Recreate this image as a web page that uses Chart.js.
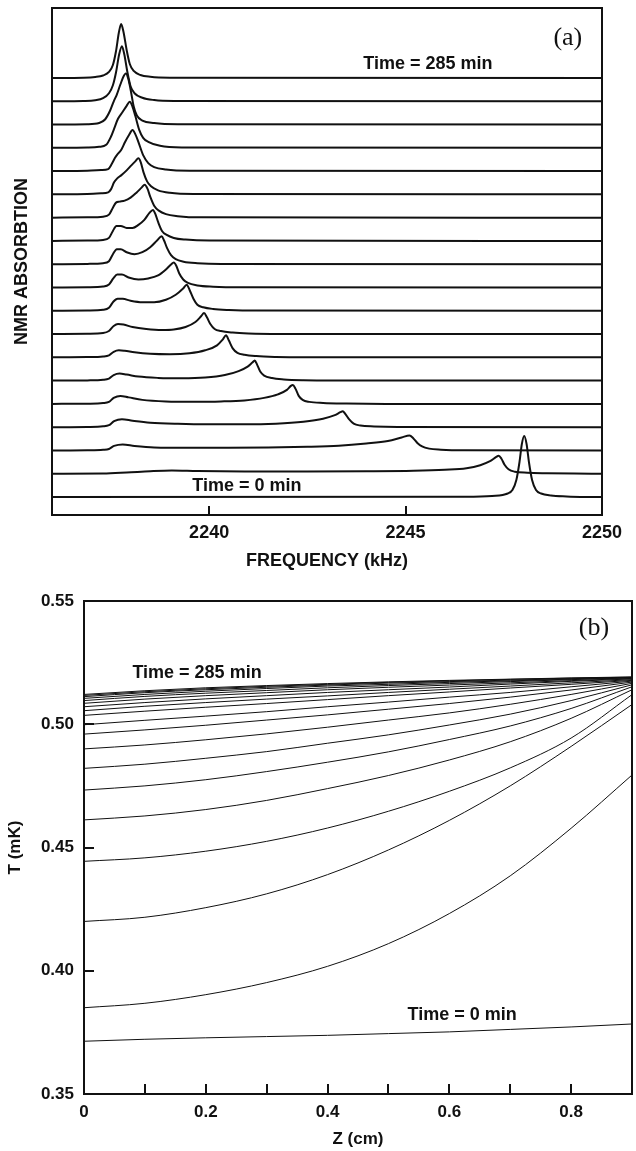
<!DOCTYPE html>
<html>
<head>
<meta charset="utf-8">
<script src="https://cdn.jsdelivr.net/npm/chart.js@4.4.1/dist/chart.umd.min.js"></script>
<style>
html,body{margin:0;padding:0;background:#fff;}
#wrap{position:relative;width:636px;height:1151px;}
canvas{position:absolute;left:0;}
#nmr{top:0;}
#temp{top:575px;}
</style>
</head>
<body>
<div id="wrap">
<canvas id="nmr" width="636" height="575"></canvas>
<canvas id="temp" width="636" height="576"></canvas>
</div>
<script>
//---------------- PANEL (a) : NMR spectra, [kHz, absorption] ----------------
// sp00 = Time 0 min (bottom trace) ... sp18 = Time 285 min (top trace)
const freqTicks = [2240, 2245, 2250];
const freqMarks = [2240, 2245];
const stackStep = 23.28;

const sp00 = [[2236,0],[2246.5,0.2],[2247.2,1],[2247.6,3.5],[2247.72,7],[2247.82,17],[2247.9,35],[2247.96,53],[2248.02,61],[2248.08,53],[2248.14,35],[2248.22,17],[2248.32,7],[2248.45,3.5],[2248.7,1.5],[2249.1,0.6],[2249.6,0.1],[2250,0]];
const sp01 = [[2236,0],[2237.3,0.2],[2237.9,1.2],[2238.5,2.5],[2239.05,3.2],[2239.7,2.7],[2240.9,2.3],[2242.5,2.3],[2244,2.5],[2245.2,3],[2246.0,4],[2246.55,5.5],[2246.9,8.5],[2247.15,12.5],[2247.3,16.5],[2247.37,18],[2247.44,15],[2247.52,9],[2247.62,4.5],[2247.78,2],[2248.1,1],[2248.6,0.5],[2249.3,0.1],[2250,0]];
const sp02 = [[2236,0],[2236.9,0.2],[2237.3,0.7],[2237.45,1.5],[2237.58,4.5],[2237.8,6],[2238.1,4.5],[2238.6,3],[2239.5,2.7],[2240.5,2.7],[2241.5,3],[2242.5,3.7],[2243.3,4.8],[2244.0,7],[2244.55,9.5],[2244.9,13],[2245.1,15],[2245.2,12],[2245.3,7.5],[2245.42,4],[2245.6,1.8],[2245.9,0.8],[2246.5,0.2],[2250,0]];
const sp03 = [[2236,0],[2236.9,0.2],[2237.3,0.8],[2237.45,2],[2237.58,6],[2237.78,8],[2238.05,6.5],[2238.5,4.5],[2239.2,3.3],[2240.0,2.8],[2240.9,2.8],[2241.7,3.5],[2242.4,5.5],[2242.9,8.5],[2243.2,12],[2243.34,15],[2243.4,16],[2243.47,13],[2243.56,8],[2243.68,3.5],[2243.85,1.6],[2244.2,0.7],[2244.8,0.2],[2250,0]];
const sp04 = [[2236,0],[2236.9,0.2],[2237.3,0.8],[2237.45,2],[2237.57,6],[2237.74,8],[2237.95,6.5],[2238.3,4],[2238.9,2.5],[2239.6,2.2],[2240.3,2.5],[2240.9,3.5],[2241.4,6],[2241.75,9.5],[2241.98,14],[2242.08,18],[2242.13,19],[2242.2,15],[2242.28,8],[2242.38,4],[2242.55,2],[2242.9,0.9],[2243.5,0.3],[2244.5,0],[2250,0]];
const sp05 = [[2236,0],[2236.9,0.2],[2237.3,0.8],[2237.45,2],[2237.57,5.5],[2237.72,7],[2237.9,6],[2238.2,4],[2238.7,2.7],[2239.3,2.3],[2239.9,3],[2240.4,5.5],[2240.75,9.5],[2240.98,14],[2241.1,18],[2241.16,20],[2241.22,16],[2241.3,9],[2241.4,5],[2241.6,2.5],[2241.9,1.2],[2242.4,0.4],[2243.2,0.1],[2250,0]];
const sp06 = [[2236,0],[2236.9,0.2],[2237.3,0.8],[2237.45,2],[2237.57,5.5],[2237.7,7],[2237.85,6.5],[2238.1,5],[2238.5,3.5],[2239.0,3],[2239.5,4],[2239.9,7],[2240.2,12],[2240.35,18],[2240.43,22],[2240.5,17],[2240.6,9],[2240.72,4.5],[2240.9,2.5],[2241.2,1.2],[2241.7,0.4],[2242.5,0.1],[2250,0]];
const sp07 = [[2236,0],[2236.9,0.3],[2237.3,1],[2237.45,3],[2237.57,8],[2237.68,10],[2237.82,9.5],[2238.05,7],[2238.4,5],[2238.8,4],[2239.1,4.5],[2239.4,7],[2239.65,12],[2239.8,18],[2239.87,21],[2239.94,17],[2240.03,10],[2240.14,5],[2240.3,3],[2240.6,1.5],[2241.0,0.6],[2241.8,0.1],[2250,0]];
const sp08 = [[2236,0],[2236.9,0.3],[2237.3,1],[2237.45,3],[2237.56,9],[2237.67,12],[2237.8,12],[2238.0,10],[2238.3,8.5],[2238.6,8.5],[2238.9,11],[2239.15,16],[2239.33,22],[2239.43,26],[2239.5,21],[2239.6,12],[2239.7,6],[2239.85,3.5],[2240.1,1.8],[2240.5,0.8],[2241.2,0.2],[2250,0]];
const sp09 = [[2236,0],[2236.9,0.3],[2237.3,1],[2237.45,3],[2237.56,9],[2237.66,13],[2237.78,13],[2237.95,10],[2238.2,8],[2238.45,9],[2238.7,12],[2238.9,18],[2239.03,23],[2239.1,25],[2239.16,22],[2239.24,14],[2239.34,8],[2239.46,4.5],[2239.7,2],[2240.1,0.8],[2240.8,0.2],[2250,0]];
const sp10 = [[2236,0],[2236.9,0.3],[2237.3,1],[2237.45,3],[2237.55,10],[2237.65,15],[2237.75,15],[2237.9,12],[2238.1,10],[2238.3,12],[2238.5,17],[2238.68,24],[2238.79,28],[2238.85,24],[2238.93,16],[2239.03,9],[2239.15,5],[2239.35,2.5],[2239.7,1],[2240.3,0.2],[2250,0]];
const sp11 = [[2236,0],[2236.9,0.3],[2237.3,1],[2237.45,3],[2237.55,10],[2237.64,15],[2237.75,15],[2237.9,13],[2238.05,13],[2238.2,16],[2238.35,21],[2238.48,28],[2238.57,31],[2238.63,27],[2238.7,19],[2238.8,10],[2238.92,6],[2239.1,3],[2239.4,1.3],[2240,0.3],[2250,0]];
const sp12 = [[2236,0],[2236.9,0.3],[2237.3,1],[2237.45,3],[2237.55,10],[2237.63,15],[2237.72,16],[2237.85,17],[2238.0,20],[2238.15,25],[2238.28,30],[2238.36,33],[2238.43,29],[2238.5,21],[2238.6,12],[2238.72,7],[2238.9,3.5],[2239.2,1.5],[2239.8,0.3],[2250,0]];
const sp13 = [[2236,0],[2236.9,0.3],[2237.25,1],[2237.43,2],[2237.5,5],[2237.58,12],[2237.66,16],[2237.76,19],[2237.9,24],[2238.02,29],[2238.12,33],[2238.2,36],[2238.26,32],[2238.33,22],[2238.42,13],[2238.52,8],[2238.7,4],[2239,1.5],[2239.6,0.3],[2250,0]];
const sp14 = [[2236,0],[2236.9,0.3],[2237.25,1],[2237.43,2],[2237.52,7],[2237.6,13],[2237.67,17],[2237.76,21],[2237.86,29],[2237.96,36],[2238.05,41],[2238.12,37],[2238.2,29],[2238.32,16],[2238.45,8],[2238.6,4],[2238.9,1.5],[2239.5,0.3],[2250,0]];
const sp15 = [[2236,0],[2236.9,0.3],[2237.2,1],[2237.38,3],[2237.5,11],[2237.58,19],[2237.68,29],[2237.8,36],[2237.9,42],[2237.98,46],[2238.05,41],[2238.12,32],[2238.22,18],[2238.32,10],[2238.45,6],[2238.75,2],[2239.3,0.4],[2250,0]];
const sp16 = [[2236,0],[2236.9,0.3],[2237.2,1.5],[2237.35,5],[2237.48,14],[2237.57,23],[2237.65,30],[2237.74,40],[2237.82,48],[2237.88,51],[2237.94,46],[2238.0,35],[2238.08,18],[2238.16,9],[2238.3,4],[2238.6,1.5],[2239.2,0.3],[2250,0]];
const sp17 = [[2236,0],[2236.8,0.3],[2237.1,1],[2237.3,3],[2237.45,8],[2237.55,16],[2237.63,29],[2237.71,47],[2237.78,55],[2237.84,47],[2237.92,29],[2238.0,15],[2238.1,8],[2238.3,3.5],[2238.6,1.2],[2239.1,0.3],[2250,0]];
const sp18 = [[2236,0],[2236.8,0.3],[2237.1,1],[2237.3,2.5],[2237.45,6],[2237.55,13],[2237.63,27],[2237.7,45],[2237.76,54],[2237.82,46],[2237.9,28],[2237.98,14],[2238.08,7],[2238.25,3],[2238.5,1.2],[2239,0.3],[2250,0]];
const spectra = [sp00,sp01,sp02,sp03,sp04,sp05,sp06,sp07,sp08,sp09,sp10,sp11,sp12,sp13,sp14,sp15,sp16,sp17,sp18];

//---------------- PANEL (b) : temperature profiles T(z) in mK ----------------
const zValues = [0, 0.1, 0.2, 0.3, 0.4, 0.5, 0.6, 0.7, 0.8, 0.9];
const zLabelTicks = [0, 0.2, 0.4, 0.6, 0.8];
const zMarks = [0.1, 0.2, 0.3, 0.4, 0.5, 0.6, 0.7, 0.8];
const tTicks = [0.35, 0.40, 0.45, 0.50, 0.55];
const tMarks = [0.40, 0.45, 0.50];

const tp00 = [.3714,.3722,.3728,.3733,.3738,.3745,.3752,.3762,.3772,.3784];
const tp01 = [.3850,.3868,.3903,.3952,.4018,.4110,.4232,.4385,.4578,.4794];
const tp02 = [.4200,.4217,.4256,.4312,.4390,.4490,.4610,.4750,.4910,.5080];
const tp03 = [.4444,.4458,.4485,.4525,.4579,.4647,.4728,.4823,.4944,.5120];
const tp04 = [.4612,.4628,.4654,.4691,.4739,.4792,.4855,.4929,.5024,.5140];
const tp05 = [.4733,.4750,.4775,.4808,.4846,.4888,.4938,.4993,.5064,.5152];
const tp06 = [.4821,.4838,.4862,.4889,.4923,.4957,.4997,.5041,.5096,.5160];
const tp07 = [.4900,.4916,.4937,.4961,.4988,.5017,.5046,.5081,.5121,.5166];
const tp08 = [.4960,.4977,.4996,.5017,.5038,.5061,.5084,.5110,.5139,.5171];
const tp09 = [.4998,.5016,.5033,.5051,.5071,.5090,.5110,.5129,.5152,.5175];
const tp10 = [.5036,.5053,.5069,.5084,.5100,.5116,.5131,.5147,.5162,.5178];
const tp11 = [.5055,.5073,.5088,.5102,.5115,.5129,.5142,.5155,.5168,.5181];
const tp12 = [.5071,.5088,.5103,.5116,.5129,.5140,.5151,.5163,.5174,.5184];
const tp13 = [.5085,.5102,.5116,.5128,.5140,.5150,.5159,.5168,.5177,.5186];
const tp14 = [.5096,.5113,.5126,.5137,.5148,.5157,.5165,.5173,.5181,.5188];
const tp15 = [.5105,.5121,.5134,.5145,.5155,.5162,.5170,.5176,.5183,.5189];
const tp16 = [.5112,.5128,.5140,.5150,.5159,.5167,.5173,.5179,.5185,.5190];
const tp17 = [.5117,.5132,.5144,.5154,.5162,.5170,.5176,.5182,.5187,.5191];
const tp18 = [.5121,.5136,.5148,.5157,.5165,.5172,.5178,.5183,.5188,.5192];
const profiles = [tp00,tp01,tp02,tp03,tp04,tp05,tp06,tp07,tp08,tp09,tp10,tp11,tp12,tp13,tp14,tp15,tp16,tp17,tp18];

//---------------- shared look ----------------
const SANS = '"Liberation Sans", Arial, Helvetica, sans-serif';
const SERIF = '"Liberation Serif", "Times New Roman", serif';
const INK = '#111';

// frame + inward tick marks + free text, all placed through the chart scales
function makeFrame(cfg){
	return {
		id: 'frame',
		afterDatasetsDraw(chart){
			const ctx = chart.ctx;
			const a = chart.chartArea;
			const sx = chart.scales.x, sy = chart.scales.y;
			ctx.save();
			ctx.strokeStyle = INK;
			ctx.lineWidth = cfg.width;
			ctx.strokeRect(a.left, a.top, a.right - a.left, a.bottom - a.top);
			ctx.lineWidth = cfg.tickWidth;
			ctx.beginPath();
			cfg.xMarks.forEach(v => {
				const x = Math.round(sx.getPixelForValue(v));
				ctx.moveTo(x, a.bottom);
				ctx.lineTo(x, a.bottom - cfg.tickLen);
			});
			cfg.yMarks.forEach(v => {
				const y = Math.round(sy.getPixelForValue(v));
				ctx.moveTo(a.left, y);
				ctx.lineTo(a.left + cfg.tickLen, y);
			});
			ctx.stroke();
			ctx.fillStyle = INK;
			ctx.textAlign = 'center';
			ctx.textBaseline = 'middle';
			cfg.notes.forEach(n => {
				ctx.font = n.font;
				ctx.fillText(n.text, sx.getPixelForValue(n.x), sy.getPixelForValue(n.y));
			});
			ctx.restore();
		}
	};
}

const tickFont = size => ({family: SANS, size: size, weight: 'bold'});

//---------------- chart (a) ----------------
const nmrSets = spectra.map((sp, k) => ({
	data: sp.map(p => ({x: p[0], y: p[1] + k * stackStep})),
	borderColor: INK,
	borderWidth: 2,
	pointRadius: 0,
	fill: false,
	cubicInterpolationMode: 'monotone'
}));

new Chart(document.getElementById('nmr'), {
	type: 'line',
	data: {datasets: nmrSets},
	options: {
		responsive: false,
		animation: false,
		events: [],
		layout: {padding: {left: 0, right: 34, top: 8, bottom: 0}},
		plugins: {legend: {display: false}, tooltip: {enabled: false}},
		scales: {
			x: {
				type: 'linear', min: 2236, max: 2250,
				afterBuildTicks: s => { s.ticks = freqTicks.map(v => ({value: v})); },
				grid: {display: false, drawTicks: false},
				border: {display: false},
				ticks: {padding: 7, color: INK, font: tickFont(18), maxRotation: 0, autoSkip: false,
					callback: v => String(v)},
				title: {display: true, text: 'FREQUENCY (kHz)', color: INK, font: tickFont(18),
					padding: {top: 0, bottom: 3}},
				afterFit: s => { s.height = 60; }
			},
			y: {
				type: 'linear', min: -18, max: 489,
				grid: {display: false, drawTicks: false},
				border: {display: false},
				ticks: {display: false},
				title: {display: true, text: 'NMR ABSORBTION', color: INK, font: tickFont(18),
					padding: {top: 11, bottom: 0}},
				afterFit: s => { s.width = 52; }
			}
		}
	},
	plugins: [makeFrame({
		width: 2, tickWidth: 2, tickLen: 9,
		xMarks: freqMarks, yMarks: [],
		notes: [
			{text: '(a)', x: 2249.13, y: 459, font: '26px ' + SERIF},
			{text: 'Time = 285 min', x: 2245.57, y: 433, font: 'bold 18px ' + SANS},
			{text: 'Time = 0 min', x: 2240.96, y: 11, font: 'bold 18px ' + SANS}
		]
	})]
});

//---------------- chart (b) ----------------
const tempSets = profiles.map(tp => ({
	data: tp.map((t, j) => ({x: zValues[j], y: t})),
	borderColor: INK,
	borderWidth: 1,
	pointRadius: 0,
	fill: false,
	cubicInterpolationMode: 'monotone'
}));

new Chart(document.getElementById('temp'), {
	type: 'line',
	data: {datasets: tempSets},
	options: {
		responsive: false,
		animation: false,
		events: [],
		layout: {padding: {left: 0, right: 4, top: 26, bottom: 0}},
		plugins: {legend: {display: false}, tooltip: {enabled: false}},
		scales: {
			x: {
				type: 'linear', min: 0, max: 0.9,
				afterBuildTicks: s => { s.ticks = zLabelTicks.map(v => ({value: v})); },
				grid: {display: false, drawTicks: false},
				border: {display: false},
				ticks: {padding: 8, color: INK, font: tickFont(17), maxRotation: 0, autoSkip: false,
					callback: v => (v === 0 ? '0' : v.toFixed(1))},
				title: {display: true, text: 'Z (cm)', color: INK, font: tickFont(17),
					padding: {top: 0, bottom: 1}},
				afterFit: s => { s.height = 57; }
			},
			y: {
				type: 'linear', min: 0.35, max: 0.55,
				afterBuildTicks: s => { s.ticks = tTicks.map(v => ({value: v})); },
				grid: {display: false, drawTicks: false},
				border: {display: false},
				ticks: {padding: 10, color: INK, font: tickFont(17), autoSkip: false,
					callback: v => v.toFixed(2)},
				title: {display: true, text: 'T (mK)', color: INK, font: tickFont(17),
					padding: {top: 5, bottom: 0}},
				afterFit: s => { s.width = 84; }
			}
		}
	},
	plugins: [makeFrame({
		width: 2, tickWidth: 2, tickLen: 10,
		xMarks: zMarks, yMarks: tMarks,
		notes: [
			{text: '(b)', x: 0.8376, y: 0.539, font: '26px ' + SERIF},
			{text: 'Time = 285 min', x: 0.1856, y: 0.5208, font: 'bold 18px ' + SANS},
			{text: 'Time = 0 min', x: 0.621, y: 0.382, font: 'bold 18px ' + SANS}
		]
	})]
});
</script>
</body>
</html>
